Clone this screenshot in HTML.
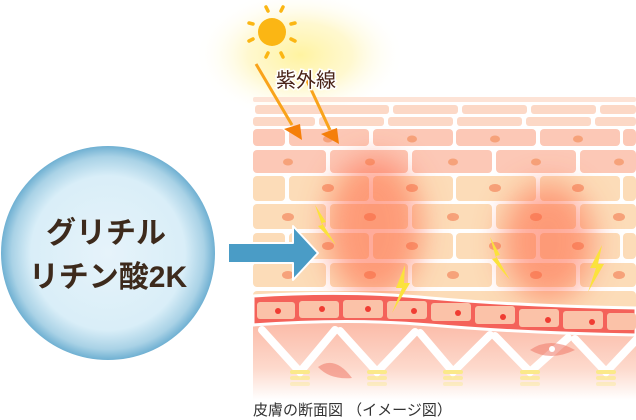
<!DOCTYPE html>
<html><head><meta charset="utf-8"><style>
html,body{margin:0;padding:0;background:#fff;width:636px;height:420px;overflow:hidden}
svg{display:block}
</style></head><body>
<svg width="636" height="420" viewBox="0 0 636 420" xmlns="http://www.w3.org/2000/svg">
<defs>
<radialGradient id="cg" cx="50%" cy="50%" r="50%">
<stop offset="0" stop-color="#e6f3fa"/><stop offset="0.72" stop-color="#d9eef8"/><stop offset="0.9" stop-color="#a9d2e6"/><stop offset="1" stop-color="#6fb0d2"/>
</radialGradient>
<radialGradient id="sg" cx="50%" cy="50%" r="50%">
<stop offset="0" stop-color="#fff3a0" stop-opacity="1"/><stop offset="0.5" stop-color="#fff6c0" stop-opacity="0.75"/><stop offset="1" stop-color="#fff" stop-opacity="0"/>
</radialGradient>
<linearGradient id="bot" x1="0" y1="0" x2="0" y2="1">
<stop offset="0" stop-color="#fbb9a6"/><stop offset="0.6" stop-color="#fdd9cc"/><stop offset="1" stop-color="#fff"/>
</linearGradient>
<filter id="bl" x="-60%" y="-60%" width="220%" height="220%"><feGaussianBlur stdDeviation="15"/></filter>
</defs>

<ellipse cx="300" cy="55" rx="105" ry="65" fill="url(#sg)"/>

<g fill="#fcd8c6">
<rect x="253" y="97" width="383" height="5" rx="2" fill="#fde3d6"/>
<rect x="255" y="105" width="79" height="9" rx="3"/><rect x="324" y="105" width="65" height="9" rx="3"/><rect x="393" y="105" width="65" height="9" rx="3"/><rect x="462" y="105" width="65" height="9" rx="3"/><rect x="531" y="105" width="65" height="9" rx="3"/><rect x="600" y="105" width="36" height="9" rx="3"/>
<rect x="253" y="117" width="62" height="9" rx="3"/><rect x="319" y="117" width="65" height="9" rx="3"/><rect x="388" y="117" width="65" height="9" rx="3"/><rect x="457" y="117" width="65" height="9" rx="3"/><rect x="526" y="117" width="65" height="9" rx="3"/><rect x="595" y="117" width="41" height="9" rx="3"/>
</g>
<g>
<g fill="#fcc8b6">
<rect x="253" y="129" width="32" height="17" rx="4"/><rect x="289" y="129" width="80" height="17" rx="4"/><rect x="373" y="129" width="80" height="17" rx="4"/><rect x="456" y="129" width="80" height="17" rx="4"/><rect x="540" y="129" width="80" height="17" rx="4"/><rect x="623" y="129" width="13" height="17" rx="4"/>
<rect x="253" y="150" width="73" height="23" rx="4"/><rect x="330" y="150" width="78" height="23" rx="4"/><rect x="412" y="150" width="80" height="23" rx="4"/><rect x="496" y="150" width="80" height="23" rx="4"/><rect x="580" y="150" width="56" height="23" rx="4"/>
</g>
<g fill="#fcdcb8">
<rect x="253" y="176" width="32" height="25" rx="4"/><rect x="289" y="176" width="80" height="25" rx="4"/><rect x="373" y="176" width="80" height="25" rx="4"/><rect x="456" y="176" width="80" height="25" rx="4"/><rect x="540" y="176" width="80" height="25" rx="4"/><rect x="623" y="176" width="13" height="25" rx="4"/>
<rect x="253" y="204" width="73" height="25" rx="4"/><rect x="330" y="204" width="78" height="25" rx="4"/><rect x="412" y="204" width="80" height="25" rx="4"/><rect x="496" y="204" width="80" height="25" rx="4"/><rect x="580" y="204" width="56" height="25" rx="4"/>
<rect x="253" y="233" width="32" height="26" rx="4"/><rect x="289" y="233" width="80" height="26" rx="4"/><rect x="373" y="233" width="80" height="26" rx="4"/><rect x="456" y="233" width="80" height="26" rx="4"/><rect x="540" y="233" width="80" height="26" rx="4"/><rect x="623" y="233" width="13" height="26" rx="4"/>
<rect x="253" y="263" width="73" height="24" rx="4"/><rect x="330" y="263" width="78" height="24" rx="4"/><rect x="412" y="263" width="80" height="24" rx="4"/><rect x="496" y="263" width="80" height="24" rx="4"/><rect x="580" y="263" width="56" height="24" rx="4"/>
<rect x="253" y="291" width="383" height="20" rx="4"/>
</g>
<g fill="#f6a27a">
<ellipse cx="328" cy="139" rx="5" ry="3.5"/><ellipse cx="412" cy="139" rx="5" ry="3.5"/><ellipse cx="495" cy="139" rx="5" ry="3.5"/><ellipse cx="578" cy="139" rx="5" ry="3.5"/>
<ellipse cx="288" cy="162" rx="5" ry="3.5"/><ellipse cx="370" cy="162" rx="5" ry="3.5"/><ellipse cx="453" cy="162" rx="5" ry="3.5"/><ellipse cx="536" cy="162" rx="5" ry="3.5"/><ellipse cx="619" cy="162" rx="5" ry="3.5"/>
<ellipse cx="328" cy="188" rx="6" ry="4"/><ellipse cx="412" cy="188" rx="6" ry="4"/><ellipse cx="495" cy="188" rx="6" ry="4"/><ellipse cx="578" cy="188" rx="6" ry="4"/>
<ellipse cx="288" cy="217" rx="6" ry="4"/><ellipse cx="370" cy="217" rx="6" ry="4"/><ellipse cx="453" cy="217" rx="6" ry="4"/><ellipse cx="536" cy="217" rx="6" ry="4"/><ellipse cx="619" cy="217" rx="6" ry="4"/>
<ellipse cx="328" cy="246" rx="6" ry="4"/><ellipse cx="412" cy="246" rx="6" ry="4"/><ellipse cx="495" cy="246" rx="6" ry="4"/><ellipse cx="578" cy="246" rx="6" ry="4"/>
<ellipse cx="288" cy="275" rx="6" ry="4"/><ellipse cx="370" cy="275" rx="6" ry="4"/><ellipse cx="453" cy="275" rx="6" ry="4"/><ellipse cx="536" cy="275" rx="6" ry="4"/><ellipse cx="619" cy="275" rx="6" ry="4"/>
</g>
</g>
<g filter="url(#bl)" fill="#ff5a38" opacity="0.5">
<ellipse cx="374" cy="228" rx="48" ry="72"/>
<ellipse cx="548" cy="242" rx="46" ry="60"/>
</g>

<rect x="253" y="320" width="383" height="80" fill="url(#bot)"/>
<g stroke="#fff" stroke-width="8" fill="none" stroke-linecap="round">
<path d="M262 330 L300 372 L335 330 M340 331 L377 372 L415 332 M420 333 L453 372 L490 335 M495 336 L530 372 L568 338 M575 339 L606 372 L636 340"/>
</g>
<g fill="#f08070" opacity="0.6">
<path d="M318 367 Q335 355 352 378 Q330 380 318 367Z"/>
<path d="M530 350 Q550 336 575 350 Q550 362 530 350Z"/>
</g>
<circle cx="552" cy="349" r="3" fill="#fff"/>
<g fill="#fbe98a">
<rect x="290" y="370" width="20" height="4" rx="2"/><rect x="290" y="376" width="20" height="4" rx="2" opacity=".7"/><rect x="290" y="382" width="20" height="4" rx="2" opacity=".4"/>
<rect x="367" y="370" width="20" height="4" rx="2"/><rect x="367" y="376" width="20" height="4" rx="2" opacity=".7"/><rect x="367" y="382" width="20" height="4" rx="2" opacity=".4"/>
<rect x="443" y="370" width="20" height="4" rx="2"/><rect x="443" y="376" width="20" height="4" rx="2" opacity=".7"/><rect x="443" y="382" width="20" height="4" rx="2" opacity=".4"/>
<rect x="520" y="370" width="20" height="4" rx="2"/><rect x="520" y="376" width="20" height="4" rx="2" opacity=".7"/><rect x="520" y="382" width="20" height="4" rx="2" opacity=".4"/>
<rect x="596" y="370" width="20" height="4" rx="2"/><rect x="596" y="376" width="20" height="4" rx="2" opacity=".7"/><rect x="596" y="382" width="20" height="4" rx="2" opacity=".4"/>
</g>

<path d="M253 296 Q350 290 430 298 Q520 306 636 308 L636 335 Q520 333 430 325 Q350 318 253 325Z" fill="#f4625a" stroke="#fff" stroke-width="3"/>
<g fill="#fbc2a8">
<rect x="257" y="302" width="38" height="17" rx="3"/><rect x="299" y="301" width="40" height="17" rx="3"/><rect x="343" y="300" width="40" height="18" rx="3"/><rect x="387" y="301" width="40" height="18" rx="3"/><rect x="431" y="303" width="40" height="18" rx="3"/><rect x="475" y="306" width="40" height="18" rx="3"/><rect x="519" y="309" width="40" height="18" rx="3"/><rect x="563" y="311" width="40" height="18" rx="3"/><rect x="607" y="313" width="29" height="17" rx="3"/>
</g>
<g fill="#f03c32">
<circle cx="278" cy="311" r="3"/><circle cx="322" cy="309" r="3"/><circle cx="368" cy="309" r="3"/><circle cx="414" cy="311" r="3"/><circle cx="458" cy="313" r="3"/><circle cx="503" cy="317" r="3"/><circle cx="548" cy="320" r="3"/><circle cx="592" cy="322" r="3"/>
</g>

<g fill="#fbe23c">
<path d="M315 205 L326 222 L322 223 L336 245 L318 226 L322 225Z"/>
<path d="M405 265 L396 288 L402 288 L392 313 L410 283 L404 283 Z"/>
<path d="M490 237 L500 255 L496 256 L510 280 L492 259 L496 258Z"/>
<path d="M602 245 L590 268 L596 268 L588 292 L604 264 L598 264Z"/>
</g>

<g stroke="#f9a31b" stroke-width="3">
<line x1="256" y1="64" x2="292" y2="125"/>
<line x1="302" y1="70" x2="330" y2="130"/>
</g>
<g fill="#f57f0a">
<path d="M284 129 L300 124 L302 140Z"/>
<path d="M321 134 L337 128 L339 144Z"/>
</g>

<circle cx="272" cy="32" r="14" fill="#fbb614"/>
<g stroke="#fbb614" stroke-width="3.5" stroke-linecap="round">
<line x1="266" y1="7" x2="268" y2="11"/><line x1="283" y1="7" x2="281" y2="11"/>
<line x1="249" y1="23" x2="253" y2="24"/><line x1="295" y1="23" x2="291" y2="24"/>
<line x1="249" y1="41" x2="253" y2="39"/><line x1="295" y1="41" x2="291" y2="39"/>
<line x1="266" y1="57" x2="268" y2="53"/><line x1="283" y1="57" x2="281" y2="53"/>
</g>
<text x="306" y="87" font-family="'Liberation Sans','Noto Sans CJK JP',sans-serif" font-size="20" fill="#4a2418" text-anchor="middle" stroke="#fff" stroke-width="3" paint-order="stroke">紫外線</text>

<circle cx="108" cy="253" r="107" fill="url(#cg)"/>
<g font-family="'Liberation Sans','Noto Sans CJK JP',sans-serif" font-size="30" font-weight="bold" fill="#3d2a1c" text-anchor="middle">
<text x="106" y="243">グリチル</text>
<text x="108" y="287">リチン酸2K</text>
</g>

<path d="M228 243 L293 243 L293 226 L318 253 L293 280 L293 263 L228 263Z" fill="#4a9cc6" stroke="#fff" stroke-width="2" stroke-linejoin="round"/>

<text x="253" y="415" font-family="'Liberation Sans','Noto Sans CJK JP',sans-serif" font-size="15" fill="#333">皮膚の断面図 （イメージ図）</text>
</svg>
</body></html>
